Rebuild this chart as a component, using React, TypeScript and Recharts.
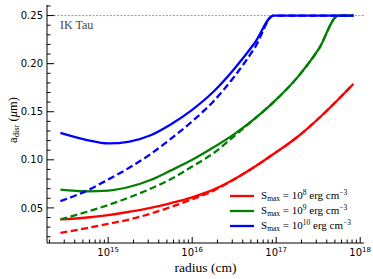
import { Legend, Line, LineChart, ReferenceLine, XAxis, YAxis } from "recharts";

// radius grid (cm) shared by all curves
const radius = [
  2.7e14, 5.6e14, 1e15, 1.8e15, 3.2e15, 5.6e15, 1e16, 1.8e16, 3.2e16, 5.6e16,
  9.3e16, 1.8e17, 3.2e17, 5.5e17, 8.3e17,
];

// a_disr (um), solid and dashed curves for each S_max
const redSolid = [0.038, 0.04, 0.0425, 0.046, 0.05, 0.055, 0.061, 0.069, 0.08, 0.093, 0.106, 0.124, 0.143, 0.163, 0.179];
const redDashed = [0.024, 0.029, 0.0335, 0.038, 0.044, 0.051, 0.059, 0.068, 0.08, 0.093, 0.106, 0.124, 0.143, 0.163, 0.179];
const greenSolid = [0.069, 0.0672, 0.068, 0.072, 0.079, 0.089, 0.1, 0.113, 0.127, 0.143, 0.16, 0.186, 0.215, 0.25, 0.25];
const greenDashed = [0.038, 0.046, 0.053, 0.061, 0.07, 0.08, 0.093, 0.107, 0.125, 0.143, 0.16, 0.186, 0.215, 0.25, 0.25];
const blueSolid = [0.128, 0.1205, 0.117, 0.119, 0.1255, 0.137, 0.152, 0.171, 0.195, 0.222, 0.25, 0.25, 0.25, 0.25, 0.25];
const blueDashed = [0.057, 0.068, 0.0795, 0.092, 0.106, 0.122, 0.14, 0.161, 0.187, 0.217, 0.25, 0.25, 0.25, 0.25, 0.25];

const smaxExponents = ["8", "9", "10"];
const seriesColors = ["#ff0000", "#008000", "#0000ff"];

const xMajorTicks = [1e15, 1e16, 1e17, 1e18];
const xMinorMultipliers = [2, 3, 4, 5, 6, 7, 8, 9];
const xMinorDecades = [1e14, 1e15, 1e16, 1e17];
const yMajorTicks = [0.05, 0.1, 0.15, 0.2, 0.25];
const yMinorTicks = [
  0.02, 0.03, 0.04, 0.06, 0.07, 0.08, 0.09, 0.11, 0.12, 0.13, 0.14, 0.16, 0.17,
  0.18, 0.19, 0.21, 0.22, 0.23, 0.24, 0.26,
];

const X_DOMAIN = [1.87e14, 1.11e18];
const Y_DOMAIN = [0.0135, 0.261];

const xTicks = [
  ...xMinorDecades.flatMap((d) => xMinorMultipliers.map((m) => m * d)),
  ...xMajorTicks,
]
  .filter((v) => v >= X_DOMAIN[0] && v <= X_DOMAIN[1])
  .sort((a, b) => a - b);
const yTicks = [...yMajorTicks, ...yMinorTicks].sort((a, b) => a - b);

const data = radius.map((r, i) => ({
  radius: r,
  redSolid: redSolid[i],
  redDashed: redDashed[i],
  greenSolid: greenSolid[i],
  greenDashed: greenDashed[i],
  blueSolid: blueSolid[i],
  blueDashed: blueDashed[i],
}));

const SANS = "DejaVu Sans";
const SERIF = "Liberation Serif";

const isXMajor = (v: number) => Math.abs(Math.log10(v) - Math.round(Math.log10(v))) < 1e-6;
const isYMajor = (v: number) => yMajorTicks.some((t) => Math.abs(t - v) < 1e-9);

const BottomTick = ({ x, y, payload }: any) => {
  const major = isXMajor(payload.value);
  return (
    <g>
      <line x1={x} x2={x} y1={y} y2={y - (major ? 6 : 3.5)} stroke="#000" strokeWidth={1} />
      {major && (
        <text x={x} y={y + 13} textAnchor="middle" fontFamily={SANS} fontSize={10} fill="#000">
          <tspan>10</tspan>
          <tspan dy={-4} fontSize={7}>
            {Math.round(Math.log10(payload.value))}
          </tspan>
        </text>
      )}
    </g>
  );
};

const TopTick = ({ x, y, payload }: any) => {
  const major = isXMajor(payload.value);
  return <line x1={x} x2={x} y1={y} y2={y + (major ? 6 : 3.5)} stroke="#000" strokeWidth={1} />;
};

const LeftTick = ({ x, y, payload }: any) => {
  const major = isYMajor(payload.value);
  return (
    <g>
      <line x1={x} x2={x + (major ? 7 : 3.5)} y1={y} y2={y} stroke="#000" strokeWidth={1} />
      {major && (
        <text x={x - 4} y={y + 3.6} textAnchor="end" fontFamily={SANS} fontSize={10} fill="#000">
          {payload.value.toFixed(2)}
        </text>
      )}
    </g>
  );
};

const RightTick = ({ x, y, payload }: any) => {
  const major = isYMajor(payload.value);
  return <line x1={x} x2={x - (major ? 7 : 3.5)} y1={y} y2={y} stroke="#000" strokeWidth={1} />;
};

const renderIkTau = (props: any) => {
  const { x, y } = props.viewBox;
  return (
    <text x={x + 13} y={y + 13.5} fontFamily={SERIF} fontWeight={400} fontSize={12} fill="#444">
      IK Tau
    </text>
  );
};

const renderYLabel = () => (
  <text x={17} y={120} transform="rotate(-90, 17, 120)" textAnchor="middle" fontFamily={SERIF} fontWeight={400} fontSize={12.5} fill="#000">
    <tspan>a</tspan>
    <tspan dy={2} fontSize={8.5}>disr</tspan>
    <tspan dy={-2}> (</tspan>
    <tspan fontStyle="italic">μ</tspan>
    <tspan>m)</tspan>
  </text>
);

const renderXLabel = () => (
  <text x={205.5} y={272} textAnchor="middle" fontFamily={SERIF} fontWeight={400} fontSize={13.5} fill="#000">
    radius (cm)
  </text>
);

const supStyle = { fontSize: 7.5, verticalAlign: "4px", lineHeight: 0 };

const LegendContent = () => (
  <div style={{ fontFamily: SERIF, fontSize: 11, color: "#000" }}>
    {smaxExponents.map((exp, i) => (
      <div key={exp} style={{ display: "flex", alignItems: "center", height: 15, lineHeight: 1 }}>
        <svg width={24} height={4} style={{ display: "block" }}>
          <line x1={0} x2={24} y1={2} y2={2} stroke={seriesColors[i]} strokeWidth={2.3} />
        </svg>
        <span style={{ marginLeft: 7, whiteSpace: "nowrap" }}>
          S<sub style={{ fontSize: 7.5, verticalAlign: "-2px", lineHeight: 0 }}>max</sub> = 10
          <sup style={supStyle}>{exp}</sup> erg cm
          <sup style={supStyle}>−3</sup>
        </span>
      </div>
    ))}
  </div>
);

export default function App() {
  return (
    <div style={{ position: "absolute", left: 0, top: 0, width: 373, height: 279, background: "#fff" }}>
      <LineChart width={373} height={279} data={data} margin={{ top: 5, right: 9, bottom: 0, left: 0 }}>
        <XAxis
          dataKey="radius"
          type="number"
          scale="log"
          domain={X_DOMAIN}
          allowDataOverflow
          ticks={xTicks}
          interval={0}
          tickSize={0}
          tickMargin={0}
          tick={<BottomTick />}
          axisLine={{ stroke: "#000", strokeWidth: 1 }}
          height={36}
          label={renderXLabel}
        />
        <XAxis
          xAxisId="top"
          dataKey="radius"
          orientation="top"
          type="number"
          scale="log"
          domain={X_DOMAIN}
          allowDataOverflow
          ticks={xTicks}
          interval={0}
          tickSize={0}
          tickMargin={0}
          tick={<TopTick />}
          axisLine={{ stroke: "#000", strokeWidth: 1 }}
          height={0}
        />
        <YAxis
          type="number"
          domain={Y_DOMAIN}
          allowDataOverflow
          ticks={yTicks}
          interval={0}
          tickSize={0}
          tickMargin={0}
          tick={<LeftTick />}
          axisLine={{ stroke: "#000", strokeWidth: 1 }}
          width={47}
          label={renderYLabel}
        />
        <YAxis
          yAxisId="right"
          orientation="right"
          type="number"
          domain={Y_DOMAIN}
          allowDataOverflow
          ticks={yTicks}
          interval={0}
          tickSize={0}
          tickMargin={0}
          tick={<RightTick />}
          axisLine={{ stroke: "#000", strokeWidth: 1 }}
          width={0}
        />
        <ReferenceLine y={0.25} stroke="#999" strokeWidth={1} strokeDasharray="2 1.5" label={renderIkTau} />
        <Line type="monotone" dataKey="redDashed" stroke={seriesColors[0]} strokeWidth={2.3} strokeDasharray="7 3.5" dot={false} isAnimationActive={false} />
        <Line type="monotone" dataKey="redSolid" stroke={seriesColors[0]} strokeWidth={2.3} dot={false} isAnimationActive={false} />
        <Line type="monotone" dataKey="greenDashed" stroke={seriesColors[1]} strokeWidth={2.3} strokeDasharray="7 3.5" dot={false} isAnimationActive={false} />
        <Line type="monotone" dataKey="greenSolid" stroke={seriesColors[1]} strokeWidth={2.3} dot={false} isAnimationActive={false} />
        <Line type="monotone" dataKey="blueDashed" stroke={seriesColors[2]} strokeWidth={2.3} strokeDasharray="7 3.5" dot={false} isAnimationActive={false} />
        <Line type="monotone" dataKey="blueSolid" stroke={seriesColors[2]} strokeWidth={2.3} dot={false} isAnimationActive={false} />
        <Legend
          layout="horizontal"
          align="center"
          verticalAlign="middle"
          content={<LegendContent />}
          wrapperStyle={{ left: 230, top: 188, width: 143, height: 46 }}
        />
      </LineChart>
    </div>
  );
}
